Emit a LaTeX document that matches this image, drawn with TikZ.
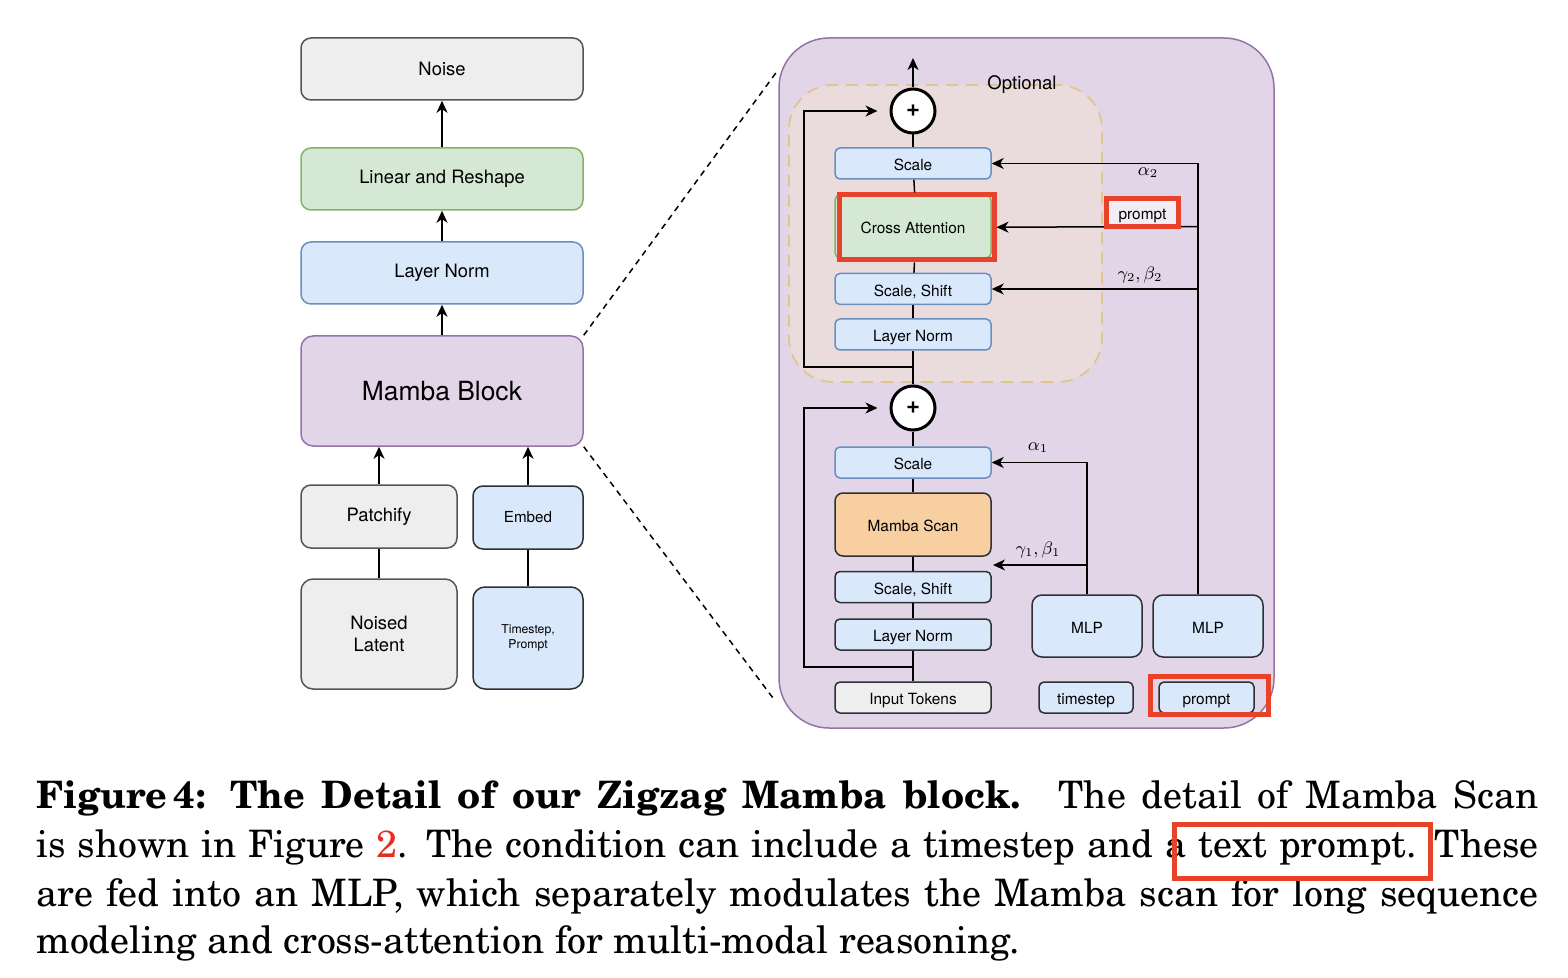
\documentclass[tikz,border=0pt]{standalone}
\usepackage{amsmath}
\usepackage{fontspec}
\usepackage{xcolor}
\setsansfont{TeX Gyre Heros}
\definecolor{blockfill}{HTML}{E1D5E7}
\definecolor{blockline}{HTML}{9673A6}
\definecolor{normfill}{HTML}{DAE8FC}
\definecolor{normline}{HTML}{6C8EBF}
\definecolor{linfill}{HTML}{D5E8D4}
\definecolor{linline}{HTML}{82B366}
\definecolor{greyfill}{HTML}{EEEEEE}
\definecolor{greyline}{HTML}{555555}
\definecolor{darkline}{HTML}{2E3033}
\definecolor{scanfill}{HTML}{F7CFA0}
\definecolor{optfill}{HTML}{EADCDD}
\definecolor{optline}{HTML}{E0C590}
\definecolor{hlred}{RGB}{232,67,42}
\definecolor{refred}{RGB}{228,46,36}
\usepackage{tikz}
\usetikzlibrary{arrows.meta}

\begin{document}
\begin{tikzpicture}[x=0.5pt, y=-0.5pt,
    cellbox/.style={draw, line width=0.75pt, inner sep=0pt, align=center},
    leftcell/.style={cellbox, rounded corners=5pt, minimum width=141pt,
      minimum height=31pt, font=\sffamily\fontsize{9.2}{10.9}\selectfont},
    midcell/.style={cellbox, rounded corners=2.5pt, minimum width=78pt,
      minimum height=15.5pt, text height=0.72em, text depth=0pt,
      font=\sffamily\fontsize{7.7}{9}\selectfont},
    greycell/.style={fill=greyfill, draw=greyline},
    normcell/.style={fill=normfill, draw=normline},
    darkcell/.style={fill=normfill, draw=darkline},
    lincell/.style={fill=linfill, draw=linline},
    blockcell/.style={fill=blockfill, draw=blockline},
    sumnode/.style={circle, draw, line width=1.5pt, fill=white, minimum size=22pt,
      inner sep=0pt, font=\sffamily\bfseries\fontsize{12}{12}\selectfont},
    arr/.style={-{Stealth[length=6pt, width=5.5pt, inset=1.8pt]}, line width=0.75pt},
    mathlab/.style={font=\fontsize{9}{10}\selectfont},
    hilite/.style={draw=hlred, line width=2.5pt, inner sep=0pt},
    zoomline/.style={line width=0.75pt, dash pattern=on 3pt off 2.5pt},
    capline/.style={anchor=base west, inner sep=0pt,
      font=\fontencoding{OT1}\fontfamily{pnc}\fontsize{18.9}{24}\selectfont}
  ]
  \useasboundingbox (0,0) rectangle (1568,978);

  % left column
  \node[leftcell, greycell] (noise) at (442,69) {Noise};
  \node[leftcell, lincell] (linear) at (442,179) {Linear and Reshape};
  \node[leftcell, normcell] (lnorm) at (442,273) {Layer Norm};
  \node[leftcell, blockcell, minimum height=55pt, rounded corners=6pt,
    font=\sffamily\fontsize{13.2}{15}\selectfont] (mblock) at (442,391) {Mamba Block};
  \node[leftcell, greycell, minimum width=78pt, minimum height=31.5pt] (patch) at (379,516.5) {Patchify};
  \node[leftcell, darkcell, minimum width=55pt, minimum height=31.5pt,
    font=\sffamily\fontsize{7.6}{9}\selectfont] (embed) at (528,517.5) {Embed};
  \node[leftcell, greycell, minimum width=78pt, minimum height=55pt,
    rounded corners=6pt] (latent) at (379,634) {Noised\\Latent};
  \node[leftcell, darkcell, minimum width=55pt, minimum height=51pt, rounded corners=6pt,
    font=\sffamily\fontsize{6.1}{7.6}\selectfont] (cond) at (528,638) {Timestep,\\Prompt};

  \path[arr, line width=1pt]
    (linear) edge (noise)
    (lnorm) edge (linear)
    (mblock) edge (lnorm)
    (patch) edge (patch |- mblock.south)
    (embed) edge (embed |- mblock.south);
  \path[line width=1pt]
    (latent) edge (patch)
    (cond) edge (embed);

  % detail of the block
  \node[draw=blockline, fill=blockfill, line width=0.75pt, rounded corners=25pt,
    minimum width=247.5pt, minimum height=345pt] (detail) at (1026.5,383) {};
  \node[draw=optline, fill=optfill, dash pattern=on 6pt off 4pt, line width=0.9pt,
    rounded corners=22pt, minimum width=156.5pt, minimum height=148.5pt] (optional) at (945.5,233.5) {};
  \node[font=\sffamily\fontsize{9.3}{11}\selectfont] (optlab) at (1022,85) {Optional};

  \coordinate (zt) at (778,70);
  \coordinate (zb) at (773,698);
  \draw[zoomline] (mblock.north east) -- (zt);
  \draw[zoomline] (mblock.south east) -- (zb);

  \node[sumnode] (sumtop) at (913,111) {+};
  \coordinate (out) at (913,58);
  \node[midcell, normcell] (scaletop) at (913,163.5) {Scale};
  \node[midcell, lincell, minimum height=31.5pt] (cross) at (913,226.5) {Cross Attention};
  \node[hilite, minimum width=77.5pt, minimum height=32.5pt] (crossmark) at (916.5,227.5) {};
  \node[midcell, normcell] (shifttop) at (913,289) {Scale, Shift};
  \node[midcell, normcell] (normtop) at (913,334.5) {Layer Norm};
  \node[sumnode] (sumlow) at (913,408) {+};
  \node[midcell, normcell] (scalelow) at (913,462.5) {Scale};
  \node[midcell, fill=scanfill, draw=darkline, minimum height=31.5pt,
    rounded corners=4pt] (scan) at (913,524.5) {Mamba Scan};
  \node[midcell, darkcell] (shiftlow) at (913,587) {Scale, Shift};
  \node[midcell, darkcell] (normlow) at (913,634.5) {Layer Norm};
  \node[midcell, greycell, draw=darkline] (tokens) at (913,697.5) {Input Tokens};

  \node[midcell, darkcell, minimum width=55pt, minimum height=31pt,
    rounded corners=5pt] (mlpt) at (1087,626) {MLP};
  \node[midcell, darkcell, minimum width=55pt, minimum height=31pt,
    rounded corners=5pt] (mlpp) at (1208,626) {MLP};
  \node[midcell, darkcell, minimum width=47pt] (tstep) at (1086,697.5) {timestep};
  \node[midcell, darkcell, minimum width=47.5pt] (prompt) at (1206.5,697.5) {prompt};
  \node[hilite, minimum width=59pt, minimum height=19pt] (promptmark) at (1209.5,695.5) {};

  \path[line width=0.75pt]
    (tokens) edge (normlow)
    (normlow) edge (shiftlow)
    (shiftlow) edge (scan)
    (scan) edge (scalelow)
    (scalelow) edge (sumlow)
    (sumlow) edge (normtop)
    (normtop) edge (shifttop)
    (shifttop) edge (crossmark)
    (crossmark) edge (scaletop)
    (scaletop) edge (sumtop);
  \draw[arr] (sumtop) -- (out);

  \coordinate (skiplow) at (913,667);
  \coordinate (skiptop) at (913,367);
  \draw[arr, shorten >=6pt] (skiplow) -- ++(-109,0) |- (sumlow);
  \draw[arr, shorten >=6pt] (skiptop) -- ++(-109,0) |- (sumtop);

  \coordinate (gapshift) at (993,565);
  \draw[arr] (mlpt) |- (scalelow);
  \draw[arr] (mlpt |- gapshift) -- (gapshift);
  \node[mathlab] (alow) at (1038,448) {$\alpha_1$};
  \node[mathlab] (gblow) at (1038,550) {$\gamma_1,\beta_1$};

  \coordinate (ptap) at ([xshift=-5pt]mlpp.north);
  \draw[arr] (ptap) |- (scaletop);
  \draw[arr] (ptap |- cross) -- (crossmark);
  \draw[arr] (ptap |- shifttop) -- (shifttop);
  \node[mathlab] (atop) at (1148,173) {$\alpha_2$};
  \node[mathlab] (gbtop) at (1140,275) {$\gamma_2,\beta_2$};
  \node[midcell, fill=blockfill!45!white, draw=hlred, line width=2.5pt, rounded corners=0pt,
    minimum width=36pt, minimum height=14pt] (promptlab) at (1142.5,212.5) {prompt};

  % caption
  \node[capline] (cap1) at (36,808) {\makebox[751pt][s]{\bfseries Figure\,4: The Detail
    of our Zigzag Mamba block.\hspace{0.2em} \mdseries The detail of Mamba Scan}};
  \node[capline] (cap2) at (36,857) {\makebox[751pt][s]{is shown in Figure
    {\color{refred}2}. The condition can include a timestep and a text prompt. These}};
  \node[capline] (cap3) at (36,906) {\makebox[751pt][s]{are fed into an MLP, which
    separately modulates the Mamba scan for long sequence}};
  \node[capline] (cap4) at (36,953) {modeling and cross-attention for multi-modal reasoning.};
  \node[hilite, minimum width=128pt, minimum height=27pt] (capmark) at (1302.5,851.5) {};
\end{tikzpicture}
\end{document}
